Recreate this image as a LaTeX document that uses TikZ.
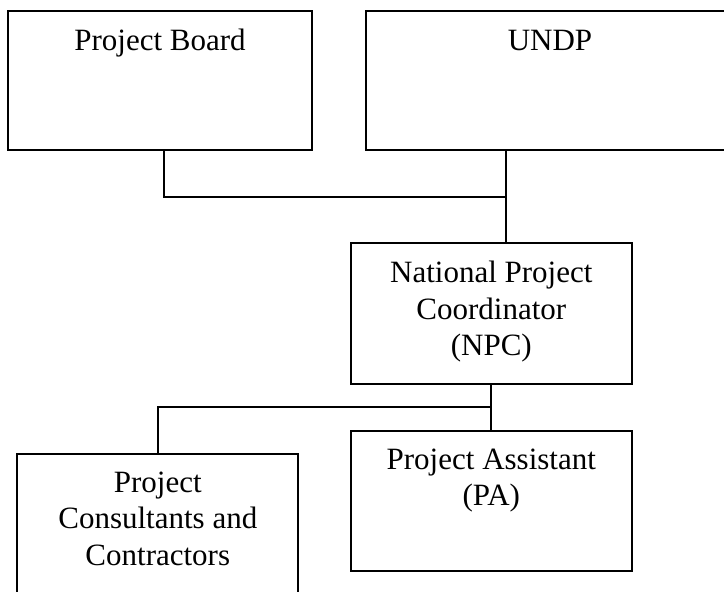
\documentclass[tikz,border=0pt]{standalone}
\usepackage{fontspec}
\setmainfont{Liberation Serif}
\begin{document}
\begin{tikzpicture}[x=1pt,y=-1pt,
  box/.style={draw=black,line width=1.8pt,rectangle,inner sep=0pt},
  lbl/.style={anchor=base,align=center,inner sep=0pt,font=\fontsize{31}{36.3}\selectfont},
  conn/.style={draw=black,line width=1.8pt}]
\useasboundingbox (0,0) rectangle (724,592);
\clip (0,0) rectangle (724,592);
\node[box,minimum width=304pt,minimum height=139.3pt] (pb) at (160.3,80.35) {};
\node[box,minimum width=367.7pt,minimum height=139.3pt] (undp) at (550.15,80.35) {};
\node[box,minimum width=280.7pt,minimum height=140.7pt] (npc) at (491.35,313.65) {};
\node[box,minimum width=281pt,minimum height=170pt] (cc) at (157.8,539) {};
\node[box,minimum width=280.7pt,minimum height=140.3pt] (pa) at (491.35,500.85) {};
\node[lbl] (tpb) at (160,50) {Project Board};
\node[lbl] (tundp) at (550,50) {UNDP};
\node[lbl] (tnpc) at (491.3,355.5) {National Project\\Coordinator\\(NPC)};
\node[lbl] (tcc) at (157.8,565) {Project\\Consultants and\\Contractors};
\node[lbl] (tpa) at (491.3,505.8) {Project Assistant\\(PA)};
\coordinate (j1) at (506.3,196.7);
\coordinate (j2) at (491.35,406.7);
\draw[conn] ([xshift=3.7pt]pb.south) |- (j1);
\draw[conn] (undp.south -| j1) -- (npc.north -| j1);
\draw[conn] (npc.south) -- (pa.north);
\draw[conn] (j2) -| (cc.north);
\end{tikzpicture}
\end{document}
